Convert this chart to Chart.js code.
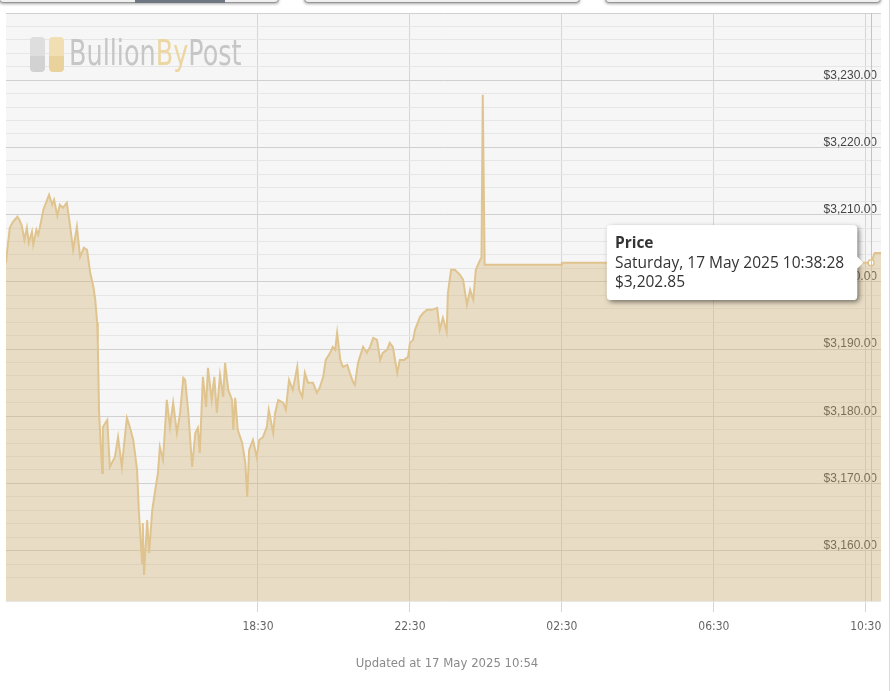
<!DOCTYPE html>
<html>
<head>
<meta charset="utf-8">
<script src="https://cdn.jsdelivr.net/npm/chart.js@4.4.0/dist/chart.umd.min.js"></script>
<style>
  html, body { margin: 0; padding: 0; background: #fff; }
  body { width: 894px; height: 691px; position: relative; overflow: hidden; font-family: 'Liberation Sans', Arial, sans-serif; }
  #wrap { position: absolute; left: 0; top: 0; width: 894px; height: 640px; }
  .btn { position: absolute; top: -24px; height: 25px; background: #f0f0f0; border: 1px solid #959595; border-radius: 4px; box-shadow: 0 1px 3px rgba(0,0,0,0.35); }
  .btn .sel { position: absolute; bottom: -1px; height: 3px; background: #6f7882; }
  #logo { position: absolute; left: 30px; top: 37px; height: 36px; pointer-events: none; }
  #logo .bar { position: absolute; top: 0; width: 15px; height: 35px; border-radius: 4px; }
  #logo .gray { left: 0; background: linear-gradient(#dedede 55%, #d2d2d2 55%); }
  #logo .gold { left: 19px; background: linear-gradient(#f1dfb3 55%, #ead29d 55%); }
  #logo .word { position: absolute; left: 39px; top: -4px; font-family: 'DejaVu Sans Condensed', sans-serif; font-size: 35px; color: #c6c6c6; white-space: nowrap; transform: scaleX(0.81); transform-origin: 0 0; }
  #logo .by { color: #ecd6a2; }
  #edge { position: absolute; left: 889px; top: 0; width: 1px; height: 691px; background: #dadada; }
  #updated { position: absolute; left: 0; width: 894px; top: 655px; text-align: center; font-family: 'DejaVu Sans Condensed', sans-serif; font-size: 13px; color: #8a8a8a; }
</style>
</head>
<body>
<div class="btn" style="left:-1px;width:278px;"><div class="sel" style="left:135px;width:90px;"></div></div>
<div class="btn" style="left:304px;width:274px;"></div>
<div class="btn" style="left:605px;width:274px;"></div>
<div id="wrap"><canvas id="chart"></canvas></div>
<div id="logo"><span class="bar gray"></span><span class="bar gold"></span><span class="word">Bullion<span class="by">By</span>Post</span></div>
<div id="edge"></div>
<div id="updated">Updated at 17 May 2025 10:54</div>
<script>
// 16 May 2025 11:52 -> 17 May 2025 10:54 (times before 11:52 belong to the next day)
const times = [
  '11:52','11:54','11:58','12:03','12:10','12:13','12:17','12:21','12:25','12:28',
  '12:33','12:35','12:40','12:43','12:47','12:51','12:57','13:00','13:05','13:08',
  '13:13','13:17','13:22','13:28','13:33','13:38','13:44','13:49','13:55','14:00',
  '14:05','14:10','14:13','14:16','14:17','14:19','14:24','14:25','14:32','14:36',
  '14:44','14:49','14:55','14:58','15:03','15:08','15:13','15:19','15:22','15:27',
  '15:28','15:30','15:35','15:38','15:43','15:47','15:52','15:55','16:00','16:06',
  '16:11','16:16','16:22','16:27','16:32','16:35','16:40','16:46','16:51','16:55',
  '16:58','17:03','17:08','17:11','17:17','17:21','17:25','17:30','17:35','17:38',
  '17:43','17:49','17:51','17:54','17:58','18:05','18:10','18:13','18:16','18:22',
  '18:28','18:32','18:38','18:44','18:47','18:54','18:57','19:02','19:10','19:14',
  '19:19','19:25','19:32','19:35','19:40','19:44','19:49','19:57','20:03','20:08',
  '20:13','20:17','20:24','20:28','20:32','20:35','20:40','20:44','20:51','20:55',
  '21:00','21:03','21:08','21:16','21:22','21:27','21:32','21:38','21:43','21:47',
  '21:54','21:58','22:03','22:10','22:14','22:21','22:27','22:30','22:35','22:38',
  '22:46','22:51','22:57','23:05','23:13','23:17','23:22','23:28','23:30','23:35',
  '23:41','23:49','23:54','00:00','00:05','00:10','00:14','00:21','00:23','00:25',
  '00:28','02:29','02:30','10:38:28','10:44','10:54'
];
const prices = [
  3202.83,3204.77,3208.04,3208.94,3209.68,3209.23,3208.34,3206.26,3208.04,3205.81,
  3207.45,3205.51,3207.74,3207.00,3208.79,3210.72,3212.21,3212.96,3211.47,3212.21,
  3209.83,3211.47,3211.02,3211.77,3208.49,3204.77,3208.19,3203.72,3205.06,3204.77,
  3201.34,3199.26,3197.32,3193.89,3190.91,3180.49,3171.55,3178.40,3179.45,3172.45,
  3173.94,3176.91,3172.45,3175.42,3179.74,3178.25,3176.47,3172.00,3165.59,3158.15,
  3164.11,3156.36,3164.55,3159.64,3166.04,3168.57,3171.55,3175.42,3173.49,3182.42,
  3178.40,3181.98,3177.51,3180.49,3185.70,3185.40,3180.49,3172.45,3177.51,3178.25,
  3174.53,3185.85,3181.38,3187.19,3182.42,3185.85,3180.49,3186.15,3182.87,3187.94,
  3183.91,3182.42,3177.96,3182.72,3177.96,3176.02,3173.04,3167.98,3174.98,3176.47,
  3173.94,3176.47,3176.91,3178.40,3180.94,3177.51,3180.49,3182.42,3181.98,3180.94,
  3185.40,3183.91,3187.34,3183.91,3182.87,3186.45,3184.96,3184.96,3183.47,3184.36,
  3185.85,3188.38,3189.43,3190.32,3189.87,3192.40,3188.38,3187.34,3187.64,3186.45,
  3185.11,3184.66,3187.94,3190.32,3189.43,3190.32,3191.66,3191.36,3188.38,3189.43,
  3189.87,3190.91,3190.32,3186.45,3188.38,3188.38,3188.83,3190.91,3191.36,3192.85,
  3194.79,3195.38,3195.83,3195.83,3196.13,3192.85,3194.64,3192.55,3198.36,3201.79,
  3201.79,3201.04,3200.30,3196.57,3198.81,3197.32,3201.79,3203.28,3203.57,3227.85,
  3202.53,3202.53,3202.85,3202.85,3204.30,3204.30
];
const xTickTimes = ['18:30', '22:30', '02:30', '06:30', '10:30'];
const yTickLabels = [3160, 3170, 3180, 3190, 3200, 3210, 3220, 3230];
const hoverTime = '10:38:28';

const days = ['Sunday', 'Monday', 'Tuesday', 'Wednesday', 'Thursday', 'Friday', 'Saturday'];
const months = ['January', 'February', 'March', 'April', 'May', 'June', 'July', 'August', 'September', 'October', 'November', 'December'];
const pad = (n) => String(n).padStart(2, '0');

function clockMin(t) {
  const p = t.split(':').map(Number);
  return p[0] * 60 + p[1] + (p[2] || 0) / 60;
}
const startMin = clockMin(times[0]);
// minutes since 16 May 2025 00:00
function toX(t) {
  const m = clockMin(t);
  return m < startMin ? m + 1440 : m;
}
function fmtPrice(v) {
  return '$' + v.toLocaleString('en-US', { minimumFractionDigits: 2, maximumFractionDigits: 2 });
}
function fmtDate(m) {
  const secs = Math.round(m * 60);
  const d = new Date(2025, 4, 16 + Math.floor(secs / 86400));
  const s = secs % 86400;
  return days[d.getDay()] + ', ' + d.getDate() + ' ' + months[d.getMonth()] + ' ' + d.getFullYear() + ' ' +
    pad(Math.floor(s / 3600)) + ':' + pad(Math.floor(s / 60) % 60) + ':' + pad(s % 60);
}

const points = times.map((t, i) => ({ x: toX(t), y: prices[i] }));

const areaBg = {
  id: 'areaBg',
  beforeDraw(chart) {
    const { ctx, chartArea: a } = chart;
    ctx.save();
    ctx.fillStyle = '#f6f6f6';
    ctx.fillRect(a.left, a.top, a.right - a.left, a.bottom - a.top);
    ctx.restore();
  }
};

const crosshair = {
  id: 'crosshair',
  afterDatasetsDraw(chart) {
    const act = chart.getActiveElements();
    if (!act.length) return;
    const { ctx, chartArea: a } = chart;
    const x = Math.round(act[0].element.x) + 0.5;
    ctx.save();
    ctx.strokeStyle = '#c4c4c4';
    ctx.lineWidth = 1;
    ctx.beginPath();
    ctx.moveTo(x, a.top);
    ctx.lineTo(x, a.bottom);
    ctx.stroke();
    ctx.restore();
  }
};

const tipShadow = {
  id: 'tipShadow',
  beforeTooltipDraw(chart, args) {
    const tt = args.tooltip;
    if (!tt.opacity) return;
    const ctx = chart.ctx;
    ctx.save();
    ctx.shadowColor = 'rgba(0,0,0,0.5)';
    ctx.shadowBlur = 5;
    ctx.shadowOffsetX = 2;
    ctx.shadowOffsetY = 2;
    ctx.fillStyle = '#fff';
    ctx.beginPath();
    ctx.roundRect(tt.x, tt.y, tt.width, tt.height, 4);
    ctx.fill();
    ctx.restore();
  }
};

const chart = new Chart(document.getElementById('chart'), {
  type: 'line',
  data: {
    datasets: [{
      label: 'Price',
      data: points,
      borderColor: '#e0c48f',
      borderWidth: 2,
      backgroundColor: 'rgba(210, 178, 115, 0.38)',
      fill: 'start',
      tension: 0,
      pointRadius: 0,
      pointHoverRadius: 3,
      pointHoverBorderWidth: 1.5,
      pointHoverBackgroundColor: '#ffffff',
      pointHoverBorderColor: '#e0c48f'
    }]
  },
  options: {
    responsive: true,
    maintainAspectRatio: false,
    animation: false,
    layout: { padding: { top: 13, left: 6, right: 0, bottom: 0 } },
    interaction: { mode: 'nearest', axis: 'x', intersect: false },
    scales: {
      x: {
        type: 'linear',
        min: toX(times[0]),
        max: toX(times[times.length - 1]),
        afterBuildTicks: (scale) => {
          scale.ticks = xTickTimes.map((t) => ({ value: toX(t) }));
        },
        afterFit: (scale) => { scale.height = 39; },
        border: { display: false },
        grid: { color: '#d6d6d6', tickColor: '#d6d6d6', tickLength: 11 },
        ticks: {
          autoSkip: false,
          maxRotation: 0,
          padding: 8,
          color: '#666',
          font: { family: "'DejaVu Sans Condensed', sans-serif", size: 12 },
          callback: (v) => {
            const m = ((Math.round(v) % 1440) + 1440) % 1440;
            return pad(Math.floor(m / 60)) + ':' + pad(m % 60);
          }
        }
      },
      y: {
        position: 'right',
        min: 3152.5,
        max: 3240,
        afterFit: (scale) => { scale.width = 13; },
        border: { display: false },
        grid: {
          drawTicks: false,
          color: (ctx) => {
            const v = ctx.tick ? ctx.tick.value : 0;
            return Math.abs(v / 10 - Math.round(v / 10)) < 1e-6 ? '#d0d0d0' : '#e6e6e6';
          }
        },
        ticks: {
          stepSize: 2,
          autoSkip: false,
          mirror: true,
          padding: -4,
          labelOffset: -5,
          color: '#444',
          font: { family: "'Liberation Sans', Arial, sans-serif", size: 12 },
          callback: (v) => yTickLabels.includes(Math.round(v * 100) / 100) ? fmtPrice(v) : ''
        }
      }
    },
    plugins: {
      legend: { display: false },
      tooltip: {
        xAlign: 'right',
        yAlign: 'center',
        backgroundColor: '#ffffff',
        titleColor: '#333',
        bodyColor: '#333',
        titleFont: { family: "'Open Sans', sans-serif", size: 15.5, weight: 'bold' },
        bodyFont: { family: "'Open Sans', sans-serif", size: 15.5 },
        titleMarginBottom: 1,
        bodySpacing: 1,
        padding: { top: 9, bottom: 8, left: 8, right: 13 },
        caretSize: 6,
        caretPadding: 8,
        cornerRadius: 4,
        displayColors: false,
        callbacks: {
          title: () => 'Price',
          label: (ctx) => [fmtDate(ctx.parsed.x), fmtPrice(ctx.parsed.y)]
        }
      }
    }
  },
  plugins: [areaBg, crosshair, tipShadow]
});

const hoverIndex = times.indexOf(hoverTime);
const active = [{ datasetIndex: 0, index: hoverIndex }];
chart.setActiveElements(active);
chart.tooltip.setActiveElements(active, { x: 0, y: 0 });
chart.update();
</script>
</body>
</html>
